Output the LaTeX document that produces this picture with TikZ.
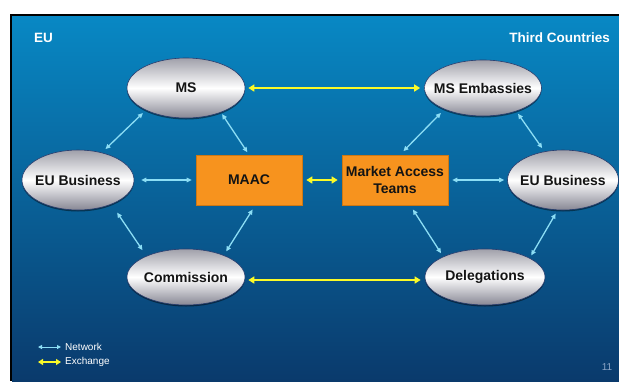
\documentclass[tikz,border=0pt]{standalone}
\usepackage{fontspec}
\setmainfont{Liberation Sans}
\usetikzlibrary{arrows.meta,shapes.geometric,shadows}
\definecolor{bgtop}{RGB}{8,136,196}
\definecolor{bgmid}{RGB}{10,98,155}
\definecolor{bgbot}{RGB}{10,58,108}
\definecolor{elltop}{RGB}{160,160,170}
\definecolor{ellbot}{RGB}{135,135,148}
\definecolor{ellrim}{RGB}{40,60,110}
\definecolor{nodetext}{RGB}{20,20,20}
\definecolor{orangebox}{RGB}{247,147,30}
\definecolor{orangerim}{RGB}{205,120,20}
\definecolor{netcol}{RGB}{140,222,245}
\definecolor{exchcol}{RGB}{250,250,40}
\definecolor{pagenum}{RGB}{140,165,198}
\begin{document}
\begin{tikzpicture}[x=1pt,y=-1pt,
  ell/.style={ellipse, inner sep=-15pt, top color=elltop, bottom color=ellbot, middle color=white,
    draw=ellrim, line width=0.6pt, text=nodetext,
    font=\fontsize{14}{16}\selectfont\bfseries,
    drop shadow={shadow xshift=0pt, shadow yshift=-1.5pt, opacity=0.45, fill=black}},
  box/.style={rectangle, fill=orangebox, draw=orangerim, line width=0.6pt,
    minimum width=106pt, minimum height=50pt, inner sep=0pt, align=center, text=nodetext,
    font=\fontsize{14}{17.5}\selectfont\bfseries},
  net/.style={{Triangle[length=5pt,width=4.5pt]}-{Triangle[length=5pt,width=4.5pt]}, draw=netcol, line width=1.3pt},
  exch/.style={{Triangle[length=6pt,width=7pt]}-{Triangle[length=6pt,width=7pt]}, draw=exchcol, line width=2pt},
  hdr/.style={text=white, font=\fontsize{13.5}{15}\selectfont\bfseries, inner sep=0pt},
  legtxt/.style={text=white, font=\fontsize{10}{12}\selectfont, inner sep=0pt, anchor=west}
]
\useasboundingbox (0,0) rectangle (619,381);
\fill[white] (0,0) rectangle (619,381);
\fill[black] (10,14) rectangle (619,381);
\shade[top color=bgtop, middle color=bgmid, bottom color=bgbot] (12,16) rectangle (619,381);

% headers
\node[hdr, anchor=west] (eu) at (34,38) {EU};
\node[hdr, anchor=east] (tc) at (610,38) {Third Countries};

% nodes
\node[ell, minimum width=118pt, minimum height=60pt] (ms)  at (186,88)  {MS};
\node[ell, minimum width=117pt, minimum height=56pt] (mse) at (483,88)  {MS Embassies};
\node[ell, minimum width=112pt, minimum height=60pt] (ebl) at (78,180)  {EU Business};
\node[ell, minimum width=111pt, minimum height=60pt] (ebr) at (563,180) {EU Business};
\node[ell, minimum width=118pt, minimum height=56pt] (com) at (186,277) {Commission};
\node[ell, minimum width=120pt, minimum height=56pt] (del) at (485,277) {Delegations};
\node[box] (maac) at (249,180) {MAAC};
\node[box] (mat)  at (395,180) {Market Access\\Teams};

% exchange arrows
\draw[exch, shorten <=3pt, shorten >=4pt] (ms.east) -- (mse.west);
\draw[exch, shorten <=4pt, shorten >=4pt] (maac.east) -- (mat.west);
\draw[exch, shorten <=3pt, shorten >=4pt] ([yshift=-3pt]com.east) -- ([yshift=-3pt]del.west);

% network arrows
\draw[net, shorten <=5pt, shorten >=4pt] (ebl.49) -- (ms.209);
\draw[net, shorten <=10pt, shorten >=7pt] (ebl.324) -- (com.152);
\draw[net, shorten <=7pt, shorten >=4pt] (ebl.east) -- (maac.west);
\draw[net, shorten <=2pt, shorten >=3pt] (ms.325) -- (maac.north);
\draw[net, shorten <=4.5pt, shorten >=5pt] (com.30) -- (maac.284);
\draw[net, shorten <=5pt, shorten >=5pt] (mat.79) -- (mse.209);
\draw[net, shorten <=3pt, shorten >=4pt] (mse.325) -- (ebr.123);
\draw[net, shorten <=4pt, shorten >=3pt] (mat.east) -- (ebr.west);
\draw[net, shorten <=5pt, shorten >=4pt] (mat.301) -- (del.154);
\draw[net, shorten <=3pt, shorten >=4pt] (del.23) -- (ebr.260);

% legend
\coordinate (na) at (38,347);
\coordinate (nb) at (61,347);
\coordinate (xa) at (38,362);
\coordinate (xb) at (61,362);
\draw[{Triangle[length=4pt,width=4pt]}-{Triangle[length=4pt,width=4pt]}, draw=netcol, line width=1pt] (na) -- (nb);
\draw[{Triangle[length=5pt,width=6pt]}-{Triangle[length=5pt,width=6pt]}, draw=exchcol, line width=1.6pt] (xa) -- (xb);
\node[legtxt] (lnet) at (65,347) {Network};
\node[legtxt] (lexc) at (65,362) {Exchange};

% page number
\node[text=pagenum, font=\fontsize{10}{12}\selectfont, inner sep=0pt] (pg) at (607,367) {11};
\end{tikzpicture}
\end{document}
